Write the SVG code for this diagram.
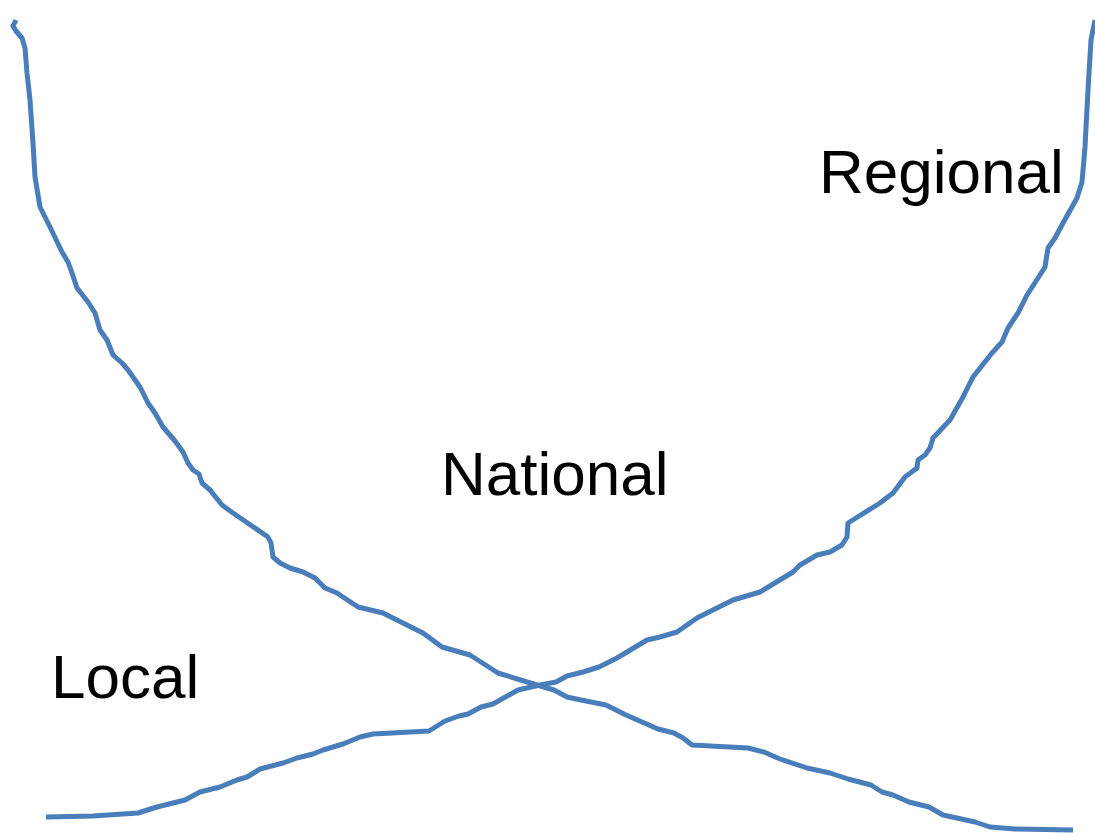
<svg xmlns="http://www.w3.org/2000/svg" width="1095" height="833" viewBox="0 0 1095 833">
<style>
.curve{fill:none;stroke:#4A7EBB;stroke-width:5;stroke-linejoin:round;stroke-linecap:butt}
.lbl{font-family:"Liberation Sans",Arial,sans-serif;font-size:62px;fill:#000}
</style>
<rect width="1095" height="833" fill="#fff"/>
<g id="curves">
<polyline id="curve-local-regional" class="curve" points="16,20 13,26 16,31 22,38 25,48 27,73 30,100 33,143 35,177 40,207 50,227 62,252 68,262 72,273 77,288 88,302 95,313 100,330 107,340 113,355 122,363 128,370 140,387 148,403 155,413 163,427 175,441 183,452 188,463 193,470 199,474 202,483 210,490 222,505 233,513 268,537 271,543 273,557 280,563 290,568 303,572 315,578 325,588 337,593 358,607 383,613 403,623 423,633 442,647 470,655 498,673 537,685 554,690 567,697 581,700 606,705 626,715 642,722 658,729 674,733 683,738 692,745 748,748 764,752 780,759 807,768 830,773 848,779 871,785 882,792 893,795 909,802 929,807 943,815 975,822 990,827 1015,829 1073,830"/>
<polyline id="curve-national" class="curve" points="46,817 93,816 138,813 157,807 185,800 200,792 220,787 237,780 247,777 260,769 283,763 297,758 313,754 323,750 343,744 360,737 373,734 429,731 445,721 459,716 468,714 481,707 493,704 518,690 540,685 556,682 567,676 583,672 599,667 617,658 647,640 660,637 677,632 697,618 733,600 760,592 793,572 800,565 817,555 830,552 842,545 847,537 848,523 880,503 893,493 905,477 917,468 918,460 925,455 930,448 933,438 950,420 963,397 973,377 992,353 1002,342 1008,328 1018,313 1027,295 1038,278 1045,267 1048,248 1055,238 1063,223 1077,198 1082,182 1085,147 1088,90 1091,40 1095,20"/>
</g>
<g id="label-regional"><text class="lbl" x="819" y="193">Regional</text></g>
<g id="label-national"><text class="lbl" x="441" y="495">National</text></g>
<g id="label-local"><text class="lbl" x="51" y="698">Local</text></g>
</svg>
